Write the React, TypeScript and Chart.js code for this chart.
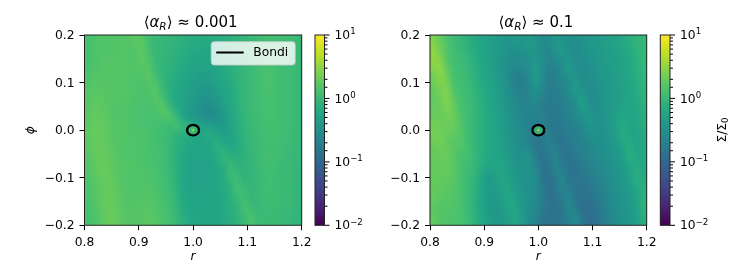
import React, { useEffect, useRef } from "react";
import { Chart, registerables } from "chart.js";

Chart.register(...registerables);
Chart.defaults.font.family = '"DejaVu Sans"';
Chart.defaults.color = "#000";

const gridLowAlpha = [
  [1.3,1.4,1.5,1.5,1.5,1.55,1.5,1.7,1.6,1.15,1,.95,.9,.85,.78,.72,.7,.68,.68,.7,.75,.8,.85,.92,1,1.1,1.2,1.25,1.2,1.15,1.1,1],
  [1.3,1.4,1.5,1.5,1.5,1.55,1.5,1.55,1.7,1.2,1,.95,.88,.82,.74,.68,.65,.63,.63,.66,.72,.78,.85,.92,1,1.1,1.2,1.25,1.2,1.15,1.1,1],
  [1.3,1.4,1.5,1.55,1.5,1.55,1.5,1.5,1.7,1.35,1,.92,.85,.78,.7,.62,.58,.56,.58,.62,.68,.76,.85,.92,1,1.1,1.25,1.3,1.2,1.15,1.1,1],
  [1.35,1.45,1.55,1.6,1.5,1.55,1.5,1.5,1.55,1.55,1.05,.9,.82,.74,.66,.58,.54,.52,.52,.58,.65,.75,.85,.95,1.05,1.15,1.3,1.3,1.2,1.15,1.1,1],
  [1.4,1.5,1.55,1.6,1.5,1.55,1.5,1.45,1.45,1.65,1.25,.92,.8,.7,.62,.54,.5,.47,.48,.54,.62,.72,.85,.95,1.05,1.15,1.3,1.3,1.2,1.15,1.1,1],
  [1.5,1.6,1.6,1.6,1.5,1.55,1.5,1.45,1.4,1.5,1.5,1,.78,.66,.56,.5,.45,.42,.42,.48,.56,.68,.82,.95,1.05,1.15,1.3,1.3,1.2,1.15,1.1,1],
  [1.6,1.7,1.65,1.6,1.5,1.55,1.5,1.4,1.4,1.4,1.6,1.2,.8,.64,.54,.45,.4,.36,.36,.42,.52,.65,.8,.95,1.05,1.15,1.25,1.3,1.2,1.15,1.1,1],
  [1.6,1.8,1.7,1.6,1.5,1.5,1.45,1.4,1.35,1.35,1.4,1.6,1,.68,.54,.43,.36,.32,.3,.36,.48,.62,.78,.92,1.05,1.15,1.25,1.3,1.2,1.15,1.1,1],
  [1.7,1.85,1.8,1.65,1.5,1.5,1.45,1.4,1.35,1.35,1.3,1.45,1.45,.95,.58,.42,.37,.3,.27,.3,.42,.58,.75,.9,1.05,1.15,1.25,1.3,1.2,1.15,1.1,1],
  [1.75,1.9,1.85,1.7,1.55,1.5,1.45,1.4,1.35,1.3,1.25,1.15,1.1,1.2,.95,.75,.6,.55,.5,.4,.42,.55,.72,.88,1,1.1,1.2,1.25,1.2,1.15,1.1,1],
  [1.75,1.9,1.9,1.7,1.55,1.5,1.45,1.45,1.4,1.35,1.25,1.15,1.02,.85,.75,.68,.6,.6,.68,.6,.5,.55,.7,.85,1,1.1,1.2,1.25,1.2,1.15,1.05,.95],
  [1.7,1.9,1.95,1.75,1.55,1.5,1.45,1.45,1.4,1.35,1.25,1.15,1,.8,.68,.6,.55,.55,.62,.78,.65,.58,.68,.82,.95,1.05,1.15,1.2,1.15,1.1,1.05,.95],
  [1.6,1.85,1.95,1.8,1.6,1.5,1.45,1.45,1.4,1.35,1.3,1.2,1,.78,.65,.56,.52,.52,.6,.7,.92,.72,.72,.82,.92,1.05,1.15,1.2,1.15,1.1,1,.95],
  [1.55,1.75,1.95,1.85,1.65,1.55,1.5,1.45,1.4,1.35,1.3,1.2,1,.78,.62,.54,.52,.52,.55,.65,.8,1.0,.8,.82,.9,1.05,1.15,1.2,1.1,1.05,1,.92],
  [1.5,1.7,1.9,1.95,1.7,1.55,1.5,1.5,1.45,1.4,1.3,1.2,1.05,.8,.62,.54,.52,.52,.55,.6,.72,1.05,.95,.85,.9,1.02,1.12,1.15,1.1,1.05,1,.92],
  [1.45,1.6,1.85,1.95,1.75,1.55,1.5,1.5,1.45,1.45,1.35,1.25,1.05,.82,.62,.54,.52,.52,.55,.6,.68,.9,1.15,.9,.92,1,1.1,1.15,1.1,1.05,1,.9],
  [1.4,1.55,1.8,2,1.8,1.6,1.5,1.5,1.5,1.5,1.4,1.25,1.1,.85,.64,.55,.53,.54,.56,.6,.66,.8,1.15,1.1,.95,1,1.1,1.15,1.1,1.05,1,.9],
  [1.35,1.5,1.75,2,1.85,1.6,1.5,1.5,1.55,1.55,1.45,1.3,1.15,.9,.68,.57,.55,.55,.57,.6,.66,.75,.95,1.25,1,1,1.08,1.12,1.08,1.02,1,.9],
  [1.3,1.45,1.7,2,1.9,1.65,1.55,1.55,1.6,1.65,1.5,1.35,1.2,.95,.72,.6,.57,.56,.58,.6,.66,.74,.85,1.2,1.25,1,1.05,1.1,1.05,1,.98,.88],
  [1.3,1.4,1.65,2,1.95,1.7,1.55,1.55,1.6,1.7,1.55,1.4,1.25,1,.78,.64,.58,.57,.58,.6,.65,.72,.82,1.0,1.35,1.1,1.05,1.08,1.05,1,.95,.88],
];

const gridHighAlpha = [
  [2.6,1.9,1.4,1.1,.95,.8,.68,.58,.5,.45,.4,.36,.38,.36,.42,.36,.28,.28,.4,.34,.3,.3,.34,.38,.42,.46,.5,.55,.65,.75,.85,.95],
  [3.0,2.2,1.5,1.15,1.0,.85,.72,.6,.5,.44,.38,.33,.32,.33,.37,.38,.28,.25,.33,.4,.3,.28,.32,.36,.4,.44,.48,.53,.6,.7,.82,.95],
  [3.2,2.6,1.6,1.2,1.1,.92,.76,.62,.52,.44,.37,.31,.28,.28,.32,.38,.3,.23,.27,.34,.38,.28,.3,.33,.38,.42,.46,.5,.56,.65,.78,.92],
  [2.8,3.0,1.8,1.25,1.15,1,.8,.65,.54,.45,.36,.29,.24,.25,.29,.4,.33,.21,.23,.28,.4,.3,.28,.32,.36,.4,.44,.48,.54,.62,.75,.9],
  [2.2,2.8,2.2,1.3,1.2,1.05,.85,.68,.56,.47,.38,.28,.21,.2,.25,.42,.32,.19,.2,.25,.32,.38,.28,.3,.34,.38,.42,.46,.52,.6,.72,.88],
  [2.0,2.4,2.5,1.45,1.2,1.1,.88,.72,.6,.5,.4,.3,.22,.2,.23,.34,.27,.18,.19,.23,.28,.42,.3,.29,.32,.36,.42,.46,.52,.58,.7,.85],
  [1.9,2.2,2.7,1.65,1.25,1.12,.92,.75,.62,.52,.42,.32,.25,.21,.23,.28,.22,.17,.18,.21,.26,.34,.42,.29,.31,.36,.42,.46,.5,.56,.66,.82],
  [1.9,2.0,2.5,1.95,1.3,1.15,.95,.78,.64,.54,.44,.34,.27,.23,.23,.24,.19,.16,.17,.19,.23,.29,.44,.32,.3,.34,.4,.46,.52,.55,.62,.78],
  [2.0,2.0,2.2,2.1,1.4,1.15,.96,.8,.66,.55,.46,.36,.29,.25,.22,.21,.19,.17,.16,.18,.21,.26,.34,.4,.3,.34,.4,.5,.58,.54,.6,.74],
  [2.2,2.1,2.0,2.0,1.5,1.15,.95,.8,.66,.56,.46,.38,.3,.25,.21,.18,.2,.17,.15,.17,.19,.22,.27,.36,.33,.33,.4,.52,.68,.55,.58,.7],
  [2.3,2.2,1.9,1.8,1.55,1.2,.95,.8,.66,.56,.47,.38,.32,.27,.21,.16,.18,.19,.15,.15,.18,.2,.24,.29,.36,.31,.38,.46,.7,.58,.55,.68],
  [2.0,2.2,1.9,1.6,1.5,1.25,.95,.78,.66,.56,.48,.4,.33,.27,.22,.16,.16,.2,.17,.15,.16,.19,.21,.25,.31,.31,.36,.42,.62,.68,.55,.65],
  [1.9,2.0,2.0,1.6,1.35,1.25,1,.78,.64,.56,.5,.42,.35,.3,.34,.18,.14,.18,.21,.15,.15,.17,.2,.23,.27,.3,.34,.38,.5,.74,.58,.65],
  [1.85,1.9,2.0,1.7,1.3,1.15,1,.75,.58,.56,.56,.46,.37,.32,.36,.22,.14,.15,.24,.17,.14,.15,.18,.21,.25,.28,.32,.36,.43,.66,.65,.65],
  [1.9,1.9,1.85,1.65,1.3,1.1,.95,.68,.48,.48,.6,.5,.38,.33,.33,.28,.15,.14,.2,.21,.14,.15,.16,.19,.22,.25,.3,.35,.4,.54,.75,.66],
  [1.9,1.85,1.75,1.6,1.3,1.05,.88,.62,.42,.44,.56,.56,.42,.35,.32,.29,.17,.13,.16,.24,.16,.14,.15,.16,.19,.23,.28,.33,.38,.46,.72,.68],
  [1.85,1.75,1.65,1.55,1.3,1.05,.82,.6,.42,.42,.48,.62,.46,.36,.32,.28,.19,.13,.15,.21,.21,.14,.14,.15,.18,.21,.26,.32,.37,.42,.6,.78],
  [1.8,1.65,1.55,1.5,1.3,1.05,.8,.6,.42,.4,.44,.58,.54,.38,.32,.27,.2,.14,.14,.17,.25,.16,.13,.13,.16,.2,.25,.3,.35,.4,.52,.82],
  [1.7,1.55,1.5,1.45,1.3,1.1,.8,.62,.44,.4,.42,.5,.6,.42,.31,.25,.18,.14,.14,.15,.24,.21,.13,.12,.14,.18,.24,.3,.34,.39,.48,.8],
  [1.9,1.5,1.45,1.4,1.3,1.15,.85,.64,.46,.4,.4,.46,.58,.46,.31,.23,.15,.13,.14,.15,.2,.27,.16,.12,.13,.17,.22,.29,.34,.38,.45,.72],
];

const bondiR = [1.011,1.0102,1.0078,1.0042,1,.9958,.9922,.9898,.989,.9898,.9922,.9958,1,1.0042,1.0078,1.0102,1.011];
const bondiPhi = [0,.0042,.0078,.0102,.011,.0102,.0078,.0042,0,-.0042,-.0078,-.0102,-.011,-.0102,-.0078,-.0042,0];
const sinkPoint = [{ x: 1, y: 0 }];
const colorbarExponents = ["−2", "−1", "0", "1"];
const colorbarMantissa = "10";
const viridisStops = ["#440154","#482475","#414487","#355f8d","#2a788e","#21918c","#22a884","#44bf70","#7ad151","#bddf26","#fde725"];

const FONT_TICK = 12.3;
const FONT_TITLE = 15;
const TOP = 35;
const BOTTOM = 225.3;
const H = 280;

function hexRgb(h: string) {
  return [1, 3, 5].map((i) => parseInt(h.slice(i, i + 2), 16));
}
function viridis(t: number) {
  const c = Math.max(0, Math.min(1, t)) * (viridisStops.length - 1);
  const i = Math.min(Math.floor(c), viridisStops.length - 2);
  const f = c - i;
  const a = hexRgb(viridisStops[i]);
  const b = hexRgb(viridisStops[i + 1]);
  return a.map((v, k) => Math.round(v + (b[k] - v) * f));
}
function normLog(v: number) {
  return (Math.log10(v) + 2) / 3;
}
function cellsFrom(grid: number[][]) {
  const cols = grid[0].length;
  const rows = grid.length;
  const out: { x: number; y: number; v: number }[] = [];
  grid.forEach((row, j) =>
    row.forEach((v, i) => {
      out.push({ x: 0.8 + ((i + 0.5) / cols) * 0.4, y: 0.2 - ((j + 0.5) / rows) * 0.4, v });
    })
  );
  return out;
}

type Seg = { t: string; italic?: boolean; small?: boolean; sub?: boolean };
function drawSegs(ctx: CanvasRenderingContext2D, segs: Seg[], size: number, cx: number, y: number) {
  const fontOf = (s: Seg) => `${s.italic ? "italic " : ""}${s.small ? size * 0.7 : size}px "DejaVu Sans"`;
  let w = 0;
  segs.forEach((s) => {
    ctx.font = fontOf(s);
    w += ctx.measureText(s.t).width;
  });
  let x = cx - w / 2;
  ctx.textAlign = "left";
  ctx.textBaseline = "alphabetic";
  ctx.fillStyle = "#000";
  segs.forEach((s) => {
    ctx.font = fontOf(s);
    ctx.fillText(s.t, x, y + (s.sub ? size * 0.2 : 0));
    x += ctx.measureText(s.t).width;
  });
}

function makeHeat(
  canvas: HTMLCanvasElement,
  grid: number[][],
  opts: { axisLeft: number; width: number; areaRight: number; title: Seg[]; showYTitle: boolean; legend: boolean }
) {
  const rows = grid.length;
  const cols = grid[0].length;
  const heatPlugin = {
    id: "heat",
    beforeDatasetsDraw(chart: any) {
      const pts = chart.data.datasets[0].data as { x: number; y: number; v: number }[];
      const off = document.createElement("canvas");
      off.width = cols;
      off.height = rows;
      const oc = off.getContext("2d")!;
      const img = oc.createImageData(cols, rows);
      pts.forEach((p, idx) => {
        const [r, g, b] = viridis(normLog(p.v));
        img.data.set([r, g, b, 255], idx * 4);
      });
      oc.putImageData(img, 0, 0);
      const { x, y } = chart.scales;
      const ctx = chart.ctx;
      const x0 = x.getPixelForValue(0.8);
      const x1 = x.getPixelForValue(1.2);
      const y0 = y.getPixelForValue(0.2);
      const y1 = y.getPixelForValue(-0.2);
      ctx.save();
      ctx.imageSmoothingEnabled = true;
      ctx.imageSmoothingQuality = "high";
      ctx.drawImage(off, x0, y0, x1 - x0, y1 - y0);
      ctx.restore();
    },
    afterDraw(chart: any) {
      const ctx = chart.ctx;
      const a = chart.chartArea;
      ctx.save();
      ctx.strokeStyle = "#222";
      ctx.lineWidth = 1;
      ctx.strokeRect(a.left, a.top, a.right - a.left, a.bottom - a.top);
      drawSegs(ctx, opts.title, FONT_TITLE, (a.left + a.right) / 2 - 2.5, 26.5);
      if (opts.legend) {
        const bx = a.right - 90.5;
        const by = a.top + 6.7;
        ctx.beginPath();
        ctx.roundRect(bx, by, 84, 23.3, 3);
        ctx.fillStyle = "rgba(255,255,255,0.8)";
        ctx.fill();
        ctx.strokeStyle = "rgba(204,204,204,0.8)";
        ctx.stroke();
        ctx.beginPath();
        ctx.moveTo(bx + 5, by + 10.8);
        ctx.lineTo(bx + 32.5, by + 10.8);
        ctx.strokeStyle = "#000";
        ctx.lineWidth = 2;
        ctx.stroke();
        ctx.fillStyle = "#000";
        ctx.font = `${FONT_TICK}px "DejaVu Sans"`;
        ctx.textAlign = "left";
        ctx.textBaseline = "middle";
        ctx.fillText(chart.data.datasets[1].label, bx + 42, by + 11.3);
      }
      ctx.restore();
    },
  };
  return new Chart(canvas, {
    type: "scatter",
    data: {
      datasets: [
        { label: "Σ/Σ0", data: cellsFrom(grid), pointRadius: 0, order: 3 },
        {
          label: "Bondi",
          data: bondiR.map((x, i) => ({ x, y: bondiPhi[i] })),
          showLine: true,
          tension: 0.35,
          borderColor: "#000",
          borderWidth: 2.3,
          pointRadius: 0,
          order: 0,
        },
        { label: "sink glow", data: sinkPoint, pointRadius: 4, pointBackgroundColor: "rgba(68,191,112,0.75)", pointBorderWidth: 0, order: 2 },
        { label: "sink", data: sinkPoint, pointRadius: 1, pointBackgroundColor: "#bddf26", pointBorderWidth: 0, order: 1 },
      ],
    } as any,
    options: {
      animation: false,
      responsive: false,
      events: [],
      layout: { padding: { left: 0, top: TOP, right: opts.width - opts.areaRight, bottom: 0 } },
      plugins: { legend: { display: false }, tooltip: { enabled: false } },
      scales: {
        x: {
          type: "linear",
          min: 0.8,
          max: 1.2,
          afterFit: (s: any) => { s.height = H - BOTTOM; },
          border: { display: false },
          grid: { drawOnChartArea: false, drawTicks: true, tickLength: 5, tickColor: "#000", tickWidth: 1 },
          ticks: { stepSize: 0.1, color: "#000", padding: 5, maxRotation: 0, font: { size: FONT_TICK }, callback: (v: any) => Number(v).toFixed(1) },
          title: { display: true, text: "r", color: "#000", font: { size: FONT_TICK, style: "italic" }, padding: { top: 0, bottom: 16 } },
        },
        y: {
          type: "linear",
          min: -0.2,
          max: 0.2,
          afterFit: (s: any) => { s.width = opts.axisLeft; },
          border: { display: false },
          grid: { drawOnChartArea: false, drawTicks: true, tickLength: 5, tickColor: "#000", tickWidth: 1 },
          ticks: {
            stepSize: 0.1,
            color: "#000",
            padding: 5,
            labelOffset: 1,
            font: { size: FONT_TICK },
            callback: (v: any) => {
              const n = Number(v);
              return (n < -1e-9 ? "−" : "") + Math.abs(n).toFixed(1);
            },
          },
          title: { display: opts.showYTitle, text: "ϕ", color: "#000", font: { size: FONT_TICK, style: "italic" }, padding: { top: 23, bottom: 0 } },
        },
      },
    },
    plugins: [heatPlugin],
  } as any);
}

function makeColorbar(canvas: HTMLCanvasElement, opts: { left: number; right: number; width: number; label: boolean }) {
  const plugin = {
    id: "colorbar",
    beforeDatasetsDraw(chart: any) {
      const ctx = chart.ctx;
      const y = chart.scales.y;
      const a = chart.chartArea;
      const pBot = y.getPixelForValue(0.01);
      const pTop = y.getPixelForValue(10);
      const g = ctx.createLinearGradient(0, pBot, 0, pTop);
      viridisStops.forEach((c, i) => g.addColorStop(i / (viridisStops.length - 1), c));
      ctx.fillStyle = g;
      ctx.fillRect(a.left, pTop, a.right - a.left, pBot - pTop);
    },
    afterDraw(chart: any) {
      const ctx = chart.ctx;
      const y = chart.scales.y;
      const a = chart.chartArea;
      ctx.save();
      ctx.strokeStyle = "#000";
      ctx.lineWidth = 1;
      ctx.fillStyle = "#000";
      ctx.textAlign = "left";
      ctx.textBaseline = "middle";
      y.ticks.forEach((t: any) => {
        const p = y.getPixelForValue(t.value);
        ctx.beginPath();
        ctx.moveTo(a.right, p);
        ctx.lineTo(a.right + (t.major ? 5 : 3), p);
        ctx.stroke();
        if (t.major) {
          ctx.font = `${FONT_TICK}px "DejaVu Sans"`;
          const w = ctx.measureText(colorbarMantissa).width;
          ctx.font = `${FONT_TICK * 0.7}px "DejaVu Sans"`;
          ctx.fillText(colorbarExponents[Math.round(Math.log10(t.value)) + 2], a.right + 10 + w, p - 3);
        }
      });
      ctx.strokeStyle = "#222";
      ctx.strokeRect(a.left, a.top, a.right - a.left, a.bottom - a.top);
      if (opts.label) {
        ctx.translate(72.5, 130);
        ctx.rotate(-Math.PI / 2);
        drawSegs(ctx, [{ t: "Σ/Σ" }, { t: "0", small: true, sub: true }], FONT_TICK, 0, 0);
      }
      ctx.restore();
    },
  };
  return new Chart(canvas, {
    type: "scatter",
    data: { datasets: [{ label: "colorbar range", data: [{ x: 0, y: 0.01 }, { x: 1, y: 10 }], pointRadius: 0 }] },
    options: {
      animation: false,
      responsive: false,
      events: [],
      layout: { padding: { left: opts.left, top: TOP, right: 0, bottom: H - BOTTOM } },
      plugins: { legend: { display: false }, tooltip: { enabled: false } },
      scales: {
        x: { type: "linear", min: 0, max: 1, display: false },
        y: {
          type: "logarithmic",
          position: "right",
          min: 0.01,
          max: 10,
          afterFit: (s: any) => { s.width = opts.width - opts.right; },
          border: { display: false },
          grid: { display: false, drawTicks: true, tickLength: 5 },
          ticks: {
            autoSkip: false,
            color: "#000",
            padding: 5,
            labelOffset: 1,
            maxRotation: 0,
            font: { size: FONT_TICK },
            callback: (v: any, i: number, ticks: any[]) => (ticks[i].major ? colorbarMantissa : ""),
          },
        },
      },
    },
    plugins: [plugin],
  } as any);
}

const titleLow: Seg[] = [{ t: "⟨" }, { t: "α", italic: true }, { t: "R", italic: true, small: true, sub: true }, { t: "⟩ ≈ 0.001" }];
const titleHigh: Seg[] = [{ t: "⟨" }, { t: "α", italic: true }, { t: "R", italic: true, small: true, sub: true }, { t: "⟩ ≈ 0.1" }];

export default function App() {
  const a = useRef<HTMLCanvasElement>(null);
  const b = useRef<HTMLCanvasElement>(null);
  const c = useRef<HTMLCanvasElement>(null);
  const d = useRef<HTMLCanvasElement>(null);
  useEffect(() => {
    const charts = [
      makeHeat(a.current!, gridLowAlpha, { axisLeft: 84.5, width: 320, areaRight: 301.7, title: titleLow, showYTitle: true, legend: true }),
      makeColorbar(b.current!, { left: 7, right: 16.5, width: 66, label: false }),
      makeHeat(c.current!, gridHighAlpha, { axisLeft: 57, width: 290, areaRight: 273.7, title: titleHigh, showYTitle: false, legend: false }),
      makeColorbar(d.current!, { left: 7.3, right: 17, width: 94, label: true }),
    ];
    return () => charts.forEach((ch) => ch.destroy());
  }, []);
  const st = (left: number): React.CSSProperties => ({ position: "absolute", left, top: 0 });
  return (
    <div style={{ position: "absolute", left: 0, top: 0, width: 747, height: H, background: "#fff", overflow: "hidden" }}>
      <canvas ref={a} width={320} height={H} style={st(0)} />
      <canvas ref={b} width={66} height={H} style={st(308)} />
      <canvas ref={c} width={290} height={H} style={st(373)} />
      <canvas ref={d} width={94} height={H} style={st(653)} />
    </div>
  );
}
